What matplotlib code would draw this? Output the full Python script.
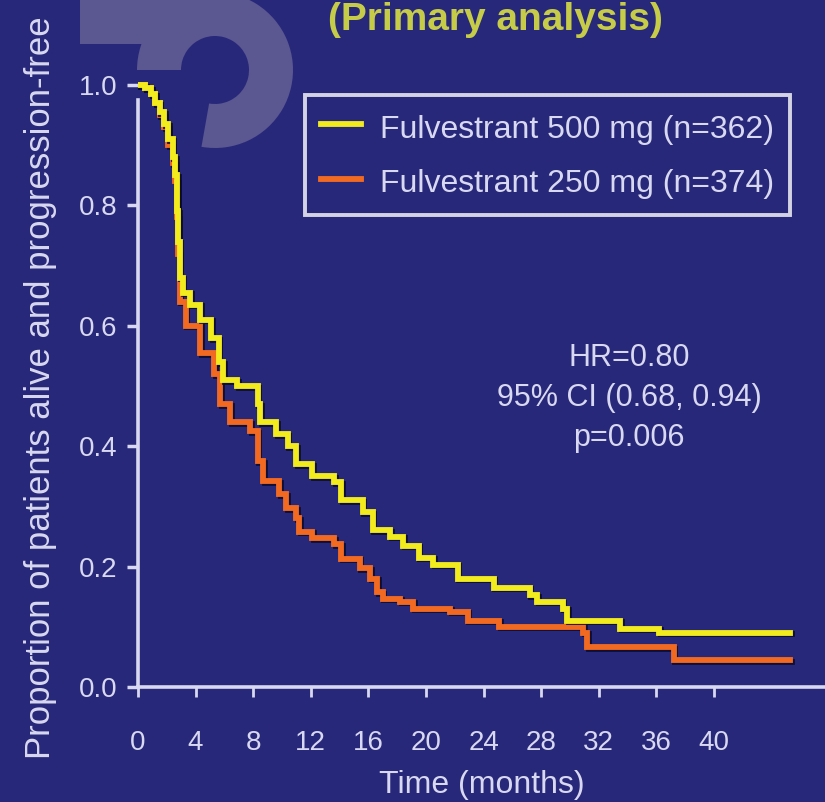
import matplotlib.pyplot as plt
import matplotlib.patheffects as pe
from matplotlib.patches import Wedge, Rectangle
from matplotlib.lines import Line2D

# Dados (Kaplan-Meier, meses x proporção)
meses_500 = [0, 0.5, 0.9, 1.2, 1.5, 1.8, 2.1, 2.4, 2.6, 2.7, 2.8, 2.9, 3.1, 3.6, 4.3,
             5.1, 5.6, 5.9, 6.9, 8.3, 8.5, 9.6, 10.4, 11.0, 12.1, 13.6, 14.1, 15.6,
             16.3, 17.5, 18.4, 19.5, 20.5, 22.2, 24.7, 27.2, 27.7, 29.5, 29.8, 33.5,
             36.2, 45.3]
surv_500 = [1.0, 0.995, 0.985, 0.97, 0.955, 0.935, 0.91, 0.88, 0.85, 0.79, 0.74, 0.68,
            0.655, 0.635, 0.61, 0.58, 0.54, 0.51, 0.50, 0.47, 0.44, 0.42, 0.40, 0.37,
            0.35, 0.34, 0.31, 0.29, 0.26, 0.25, 0.235, 0.215, 0.203, 0.18, 0.165,
            0.153, 0.142, 0.13, 0.11, 0.097, 0.09, 0.09]

meses_250 = [0, 0.5, 0.9, 1.2, 1.5, 1.8, 2.1, 2.4, 2.6, 2.7, 2.8, 2.9, 3.3, 4.3, 5.3,
             5.7, 6.4, 7.8, 8.3, 8.7, 9.8, 10.3, 11.0, 11.2, 12.1, 13.6, 14.1, 15.4,
             16.1, 16.6, 17.0, 18.2, 19.1, 21.7, 22.9, 25.1, 30.9, 31.2, 37.2, 45.3]
surv_250 = [1.0, 0.995, 0.985, 0.97, 0.95, 0.93, 0.90, 0.87, 0.84, 0.78, 0.72, 0.64,
            0.60, 0.555, 0.52, 0.47, 0.44, 0.425, 0.375, 0.342, 0.32, 0.297, 0.28,
            0.258, 0.247, 0.237, 0.213, 0.197, 0.18, 0.158, 0.147, 0.142, 0.13, 0.125,
            0.11, 0.10, 0.09, 0.066, 0.045, 0.045]

rotulos = ["Fulvestrant 500 mg (n=362)", "Fulvestrant 250 mg (n=374)"]
xticks = [0, 4, 8, 12, 16, 20, 24, 28, 32, 36, 40]
yticks = [0.0, 0.2, 0.4, 0.6, 0.8, 1.0]

fundo = "#27287a"
texto = "#d8d8f0"
amarelo = "#f2ec1e"
laranja = "#f26a22"
marca = "#5b5791"

plt.rcParams['font.family'] = ['Liberation Sans', 'DejaVu Sans']

fig = plt.figure(figsize=(8.25, 8.02), dpi=100)
fig.patch.set_facecolor(fundo)

# marca d'agua (logo ao fundo)
fig.patches.append(Wedge((2.15, 7.32), 0.78, -100, 180, width=0.44,
                         transform=fig.dpi_scale_trans, facecolor=marca,
                         edgecolor="none", zorder=0))
fig.patches.append(Rectangle((0.80, 7.58), 1.05, 0.5, transform=fig.dpi_scale_trans,
                             facecolor=marca, edgecolor="none", zorder=0))

ax = fig.add_axes([138/825, 115/802, 687/825, 627/802])
ax.set_facecolor("none")

sombra = [pe.SimpleLineShadow(offset=(1.2, -1.2), shadow_color="#0c0c30", alpha=0.9), pe.Normal()]
ax.plot(meses_250, surv_250, drawstyle="steps-post", color=laranja, lw=4.2,
        path_effects=sombra, solid_joinstyle="miter")
ax.plot(meses_500, surv_500, drawstyle="steps-post", color=amarelo, lw=4.2,
        path_effects=sombra, solid_joinstyle="miter")

ax.set_xlim(0, 687/14.4)
ax.set_ylim(0, 627/602)

for lado in ["top", "right"]:
    ax.spines[lado].set_visible(False)
for lado in ["left", "bottom"]:
    ax.spines[lado].set_color(texto)
    ax.spines[lado].set_linewidth(2.6)
ax.spines["left"].set_bounds(0, 0.975)

ax.set_xticks(xticks)
ax.set_xticklabels([str(t) for t in xticks])
ax.set_yticks(yticks)
ax.set_yticklabels([f"{t:.1f}" for t in yticks])
ax.tick_params(axis="x", direction="out", length=7, width=2, colors=texto,
               labelsize=20, pad=24)
ax.tick_params(axis="y", direction="out", length=8, width=2.5, colors=texto,
               labelsize=20, pad=7)

ax.set_xlabel("Time (months)", color=texto, fontsize=23, labelpad=10)
ax.set_ylabel("Proportion of patients alive and progression-free", color=texto,
              fontsize=25)
ax.yaxis.set_label_coords(-0.118, 0.478)

handles = [Line2D([], [], color=amarelo, lw=4.2), Line2D([], [], color=laranja, lw=4.2)]
leg = ax.legend(handles, rotulos, loc="upper right", bbox_to_anchor=(0.949, 0.944),
                borderaxespad=0, fontsize=23, frameon=True, fancybox=False,
                handlelength=1.25, handleheight=1.15, handletextpad=0.6,
                labelspacing=0.65, borderpad=0.5, labelcolor=texto)
leg.get_frame().set_facecolor(fundo)
leg.get_frame().set_edgecolor("white")
leg.get_frame().set_linewidth(2.8)

ax.text(0.715, 0.461, "HR=0.80\n95% CI (0.68, 0.94)\np=0.006", transform=ax.transAxes,
        ha="center", va="center", color=texto, fontsize=22, linespacing=1.45)

fig.text(0.6, 0.975, "(Primary analysis)", ha="center", va="center",
         color="#c6cc48", fontsize=28, fontweight="bold")

fig.savefig("out.png", dpi=100, facecolor=fundo)
